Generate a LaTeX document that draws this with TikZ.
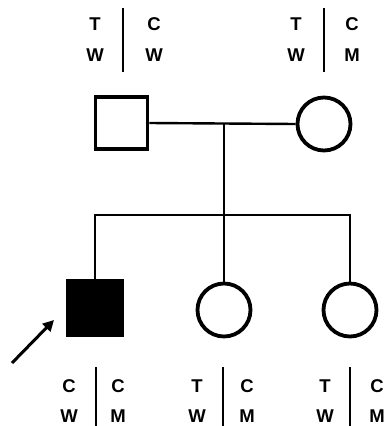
\documentclass[tikz,border=0pt]{standalone}
\usepackage{fontspec}
\setmainfont{Liberation Sans}
\usetikzlibrary{arrows.meta}
\begin{document}
\begin{tikzpicture}[x=1pt,y=-1pt,
  sq/.style={draw, line width=3.8pt, minimum size=#1, inner sep=0pt, rectangle},
  circ/.style={draw, line width=3.8pt, minimum size=#1, inner sep=0pt, circle},
  lnk/.style={line width=2.4pt},
  bar/.style={line width=2.4pt},
  lab/.style={font=\fontsize{18.5}{18.5}\selectfont\bfseries, inner sep=0pt, anchor=center}]
\useasboundingbox[fill=white] (0,0) rectangle (384,426);
% parents
\node[sq=52pt] (f) at (121.5,123) {};
\node[circ=53pt] (m) at (324,124) {};
% children
\node[sq=55pt, fill=black] (s) at (95,308) {};
\node[circ=53pt] (d1) at (224,310) {};
\node[circ=53pt] (d2) at (350,310) {};
% pedigree lines
\coordinate (mid) at (224,123);
\coordinate (sib) at (224,215);
\draw[lnk] (f.east) -- (m.west);
\draw[lnk] (mid) -- (sib);
\draw[lnk] (s.north) |- (sib) -| (d2.north);
\draw[lnk] (d1.north) -- (d1.north |- sib);
% proband arrow
\coordinate (ar0) at (12,363);
\coordinate (ar1) at (54,320);
\draw[line width=3pt, -{Triangle[length=11pt,width=11pt]}] (ar0) -- (ar1);
% top labels (father)
\node[lab] (fa1) at (95,24) {T};
\node[lab] (fa2) at (95,55) {W};
\node[lab] (fb1) at (154,24) {C};
\node[lab] (fb2) at (154,55) {W};
\draw[bar] (123,8) -- (123,72);
% top labels (mother)
\node[lab] (ma1) at (296,24) {T};
\node[lab] (ma2) at (296,55) {W};
\node[lab] (mb1) at (352,24) {C};
\node[lab] (mb2) at (352,55) {M};
\draw[bar] (324,8) -- (324,72);
% bottom labels (son)
\node[lab] (sa1) at (69,386) {C};
\node[lab] (sa2) at (69,416) {W};
\node[lab] (sb1) at (118,386) {C};
\node[lab] (sb2) at (118,416) {M};
\draw[bar] (96,367) -- (96,426);
% bottom labels (daughter 1)
\node[lab] (da1) at (197,386) {T};
\node[lab] (da2) at (197,416) {W};
\node[lab] (db1) at (247,386) {C};
\node[lab] (db2) at (247,416) {M};
\draw[bar] (223,367) -- (223,426);
% bottom labels (daughter 2)
\node[lab] (ea1) at (325,386) {T};
\node[lab] (ea2) at (325,416) {W};
\node[lab] (eb1) at (377,386) {C};
\node[lab] (eb2) at (377,416) {M};
\draw[bar] (350,367) -- (350,426);
\end{tikzpicture}
\end{document}
